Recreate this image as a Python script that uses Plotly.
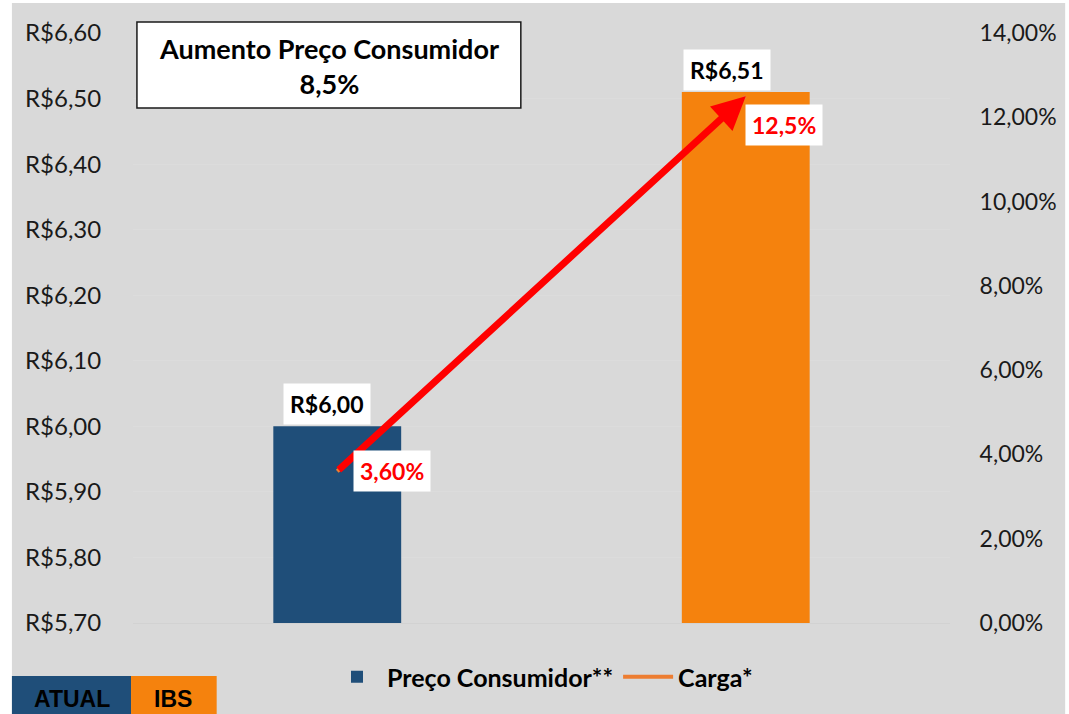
import plotly.graph_objects as go

categories = ["ATUAL", "IBS"]
preco = [6.00, 6.51]
carga = [3.60, 12.5]
preco_labels = ["R$6,00", "R$6,51"]
carga_labels = ["3,60%", "12,5%"]
bar_colors = ["#1f4e79", "#f5820d"]
title_lines = ["Aumento Preço Consumidor", "8,5%"]

FIG_W, FIG_H = 1069, 714
L, R, T, B = 133, 963, 33, 623
PW, PH = R - L, B - T

def px(x):
    return (x - L) / PW

def py(y):
    return (B - y) / PH

FONT = "Lato"

fig = go.Figure()
fig.add_trace(go.Bar(
    x=categories, y=preco, name="<b>Preço Consumidor**</b>",
    marker=dict(color=bar_colors, line=dict(width=0)),
    width=0.313, yaxis="y",
))
fig.add_trace(go.Scatter(
    x=categories, y=carga, name="<b>Carga*</b>", mode="lines",
    line=dict(color="#ed7d31", width=4), yaxis="y2",
))

shapes = []
shapes.append(dict(type="rect", xref="paper", yref="paper",
                   x0=px(10), x1=px(1080), y0=py(720), y1=py(3),
                   fillcolor="#d9d9d9", line=dict(width=0), layer="below"))
shapes.append(dict(type="rect", xref="paper", yref="paper",
                   x0=px(137), x1=px(527), y0=py(108), y1=py(22),
                   fillcolor="white", line=dict(color="#1a1a1a", width=1.5)))
shapes.append(dict(type="rect", xref="paper", yref="paper",
                   x0=px(10), x1=px(131), y0=py(720), y1=py(676),
                   fillcolor=bar_colors[0], line=dict(width=0)))
shapes.append(dict(type="rect", xref="paper", yref="paper",
                   x0=px(131), x1=px(218), y0=py(720), y1=py(676),
                   fillcolor=bar_colors[1], line=dict(width=0)))

annotations = []
annotations.append(dict(xref="paper", yref="paper", x=px(332), y=py(66),
                        text="<b>" + "<br>".join(title_lines) + "</b>",
                        showarrow=False, font=dict(family=FONT, size=27, color="black"),
                        xanchor="center", yanchor="middle"))
annotations.append(dict(xref="paper", yref="paper", x=px(71), y=py(699),
                        text="<b>" + categories[0] + "</b>", showarrow=False,
                        font=dict(family="Liberation Sans", size=23, color="black"),
                        xanchor="center", yanchor="middle"))
annotations.append(dict(xref="paper", yref="paper", x=px(174), y=py(699),
                        text="<b>" + categories[1] + "</b>", showarrow=False,
                        font=dict(family="Liberation Sans", size=23, color="black"),
                        xanchor="center", yanchor="middle"))
xsh = [-10, -19]
for i, c in enumerate(categories):
    annotations.append(dict(x=c, y=preco[i], xref="x", yref="y",
                            text="<b>" + preco_labels[i] + "</b>", showarrow=False,
                            yanchor="bottom", yshift=1, xshift=xsh[i],
                            bgcolor="white", borderpad=6,
                            font=dict(family=FONT, size=23, color="black")))
annotations.append(dict(x=categories[1], y=carga[1], xref="x", yref="y2",
                        ax=categories[0], ay=carga[0], axref="x", ayref="y2",
                        text="", showarrow=True, arrowhead=2, arrowsize=0.95,
                        arrowwidth=7, arrowcolor="#ff0000", standoff=0, startstandoff=0))
shifts = [(55, 0), (38, -29)]
for i, c in enumerate(categories):
    annotations.append(dict(x=c, y=carga[i], xref="x", yref="y2",
                            text="<b>" + carga_labels[i] + "</b>", showarrow=False,
                            xshift=shifts[i][0], yshift=shifts[i][1],
                            bgcolor="white", borderpad=6,
                            font=dict(family=FONT, size=23, color="#ff0000")))

fig.update_layout(
    width=FIG_W, height=FIG_H,
    margin=dict(l=L, r=FIG_W - R, t=T, b=FIG_H - B, pad=0),
    paper_bgcolor="white", plot_bgcolor="rgba(0,0,0,0)",
    separators=",.",
    font=dict(family=FONT, size=23, color="#1a1a1a"),
    xaxis=dict(showticklabels=False, showgrid=False, zeroline=False,
               showline=True, linecolor="#d2d2d2", linewidth=1),
    yaxis=dict(range=[5.70, 6.60], dtick=0.1, tickformat=".2f", tickprefix="R$",
               showgrid=True, gridcolor="#dcdcdc", gridwidth=1, zeroline=False,
               ticks="outside", ticklen=26, tickcolor="rgba(0,0,0,0)",
               tickfont=dict(family=FONT, size=24, color="#1a1a1a")),
    yaxis2=dict(range=[0, 14], dtick=2, tickformat=".2f", ticksuffix="%",
                overlaying="y", side="right", showgrid=False, zeroline=False,
                ticks="outside", ticklen=24, tickcolor="rgba(0,0,0,0)",
                tickfont=dict(family=FONT, size=23, color="#1a1a1a")),
    legend=dict(orientation="h", x=px(549), y=py(677), xanchor="center", yanchor="middle",
                bgcolor="rgba(0,0,0,0)", font=dict(family=FONT, size=25, color="black"),
                itemwidth=50, tracegroupgap=0),
    shapes=shapes, annotations=annotations,
    showlegend=True,
)

fig.write_html("out.html", config={"displayModeBar": False},
               post_script="document.body.style.margin='0px';document.body.style.overflow='hidden';")
